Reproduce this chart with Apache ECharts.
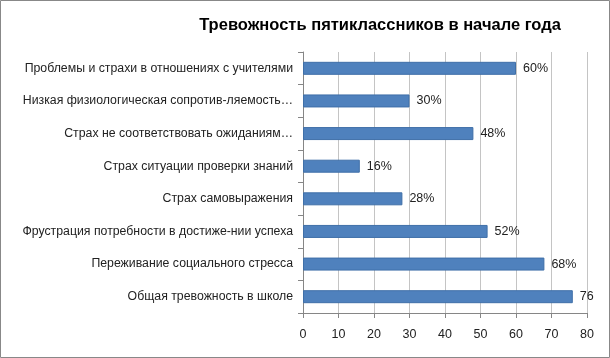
<!DOCTYPE html>
<html><head><meta charset="utf-8">
<script src="https://cdn.jsdelivr.net/npm/echarts@6/dist/echarts.min.js"></script>
<style>html,body{margin:0;padding:0;background:#fff}#c{width:610px;height:358px}</style>
</head><body><div id="c"></div>
<script>
const categories = [
  "Проблемы и страхи в отношениях с учителями",
  "Низкая физиологическая сопротив-ляемость…",
  "Страх не соответствовать ожиданиям…",
  "Страх ситуации проверки знаний",
  "Страх самовыражения",
  "Фрустрация потребности в достиже-нии успеха",
  "Переживание социального стресса",
  "Общая тревожность в школе"
];
const values = [60, 30, 48, 16, 28, 52, 68, 76];
const valueLabels = ["60%", "30%", "48%", "16%", "28%", "52%", "68%", "76"];
const xTicks = [0, 10, 20, 30, 40, 50, 60, 70, 80];

const chart = echarts.init(document.getElementById('c'), null, {renderer: 'canvas'});
const FONT = 'Liberation Sans';
chart.setOption({
  animation: false,
  backgroundColor: '#fff',
  title: {
    text: 'Тревожность пятиклассников в начале года',
    left: 375, top: 12, textAlign: 'center',
    textStyle: {fontFamily: FONT, fontSize: 16.5, fontWeight: 'bold', color: '#000'}
  },
  graphic: [{type: 'rect', shape: {x: 0.5, y: 0.5, width: 609, height: 357}, style: {fill: 'none', stroke: '#888', lineWidth: 1}}],
  grid: {left: 303, right: 23, top: 52, bottom: 45, containLabel: false},
  xAxis: {
    type: 'value', min: xTicks[0], max: xTicks[xTicks.length - 1], interval: 10,
    axisLine: {show: true, lineStyle: {color: '#868686'}},
    axisTick: {show: true, length: 5, lineStyle: {color: '#868686'}},
    axisLabel: {fontFamily: FONT, fontSize: 12.5, color: '#222', margin: 15},
    splitLine: {show: true, lineStyle: {color: '#c4c4c4'}}
  },
  yAxis: {
    type: 'category', data: categories, inverse: true,
    axisLine: {show: true, lineStyle: {color: '#868686'}},
    axisTick: {show: true, length: 5, alignWithLabel: false, lineStyle: {color: '#868686'}},
    axisLabel: {fontFamily: FONT, fontSize: 12.3, color: '#222', margin: 10}
  },
  series: [{
    type: 'bar', data: values, barWidth: 13,
    itemStyle: {color: '#4F81BD', borderColor: '#3F6FA8', borderWidth: 1},
    label: {show: true, position: 'right', distance: 7, fontFamily: FONT, fontSize: 12.5, color: '#222',
      formatter: p => valueLabels[p.dataIndex]}
  }]
});
</script></body></html>
